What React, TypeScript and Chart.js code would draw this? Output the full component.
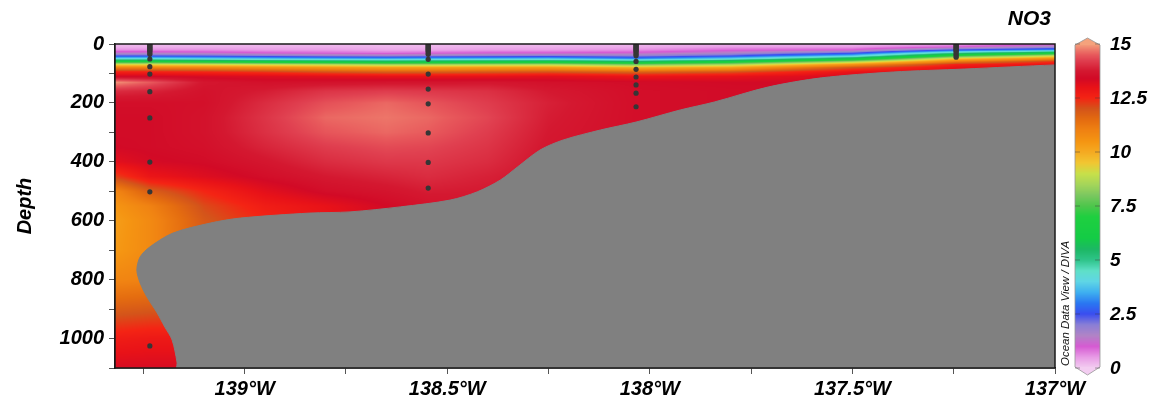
import React, { useEffect, useRef } from 'react';
import { Chart, registerables } from 'chart.js';

Chart.register(...registerables);

// ---------------- data ----------------
const X_MIN = -139.32;
const X_MAX = -137.0;
const Y_MIN = 0;
const Y_MAX = 1100;

// grid longitudes (columns) and depths (rows) of the NO3 section
const LONS = [-139.32, -139.234, -139.1, -138.95, -138.8, -138.65, -138.547, -138.4, -138.25, -138.034, -137.8, -137.5, -137.244, -137.0];
const DEPTHS = [0, 10, 20, 30, 40, 50, 60, 70, 80, 95, 110, 130, 160, 200, 250, 300, 350, 400, 450, 500, 550, 600, 700, 800, 900, 1000, 1100];

const NO3_A = [0.2, 0.3, 0.6, 1.3, 2.4, 4.2, 6.8, 9.3, 11.0, 12.6, 13.4, 14.9, 14.0, 13.5, 13.45, 13.45, 13.4, 13.1, 12.2, 10.9, 10.5, 10.3, 10.4, 10.9, 11.8, 12.7, 13.3];
const NO3_B = [0.2, 0.3, 0.6, 1.3, 2.4, 4.2, 6.8, 9.3, 11.0, 12.6, 13.4, 14.5, 13.9, 13.5, 13.45, 13.45, 13.45, 13.35, 12.9, 11.8, 11.0, 10.8, 10.8, 11.0, 11.9, 12.8, 13.3];
const NO3_C = [0.2, 0.3, 0.6, 1.2, 2.3, 4.0, 6.6, 9.2, 10.9, 12.5, 13.3, 13.7, 13.6, 13.55, 13.6, 13.6, 13.55, 13.45, 13.2, 12.5, 12.1, 11.9, 11.8, 11.8, 12.0, 12.8, 13.3];
const NO3_D = [0.2, 0.3, 0.5, 1.0, 2.1, 3.8, 6.3, 9.0, 10.7, 12.3, 13.2, 13.55, 13.8, 14.0, 14.1, 14.05, 13.9, 13.7, 13.5, 13.1, 12.7, 12.5, 12.5, 12.5, 12.5, 12.8, 13.3];
const NO3_E = [0.2, 0.3, 0.5, 0.9, 1.9, 3.6, 6.0, 8.8, 10.5, 12.0, 13.1, 13.6, 14.1, 14.4, 14.6, 14.45, 14.2, 14.0, 13.75, 13.5, 13.0, 12.9, 12.9, 12.9, 12.9, 12.9, 13.3];
const NO3_F = [0.2, 0.25, 0.4, 0.8, 1.8, 3.5, 5.8, 8.5, 10.3, 11.8, 13.0, 13.65, 14.2, 14.6, 14.7, 14.6, 14.35, 14.15, 13.9, 13.65, 13.4, 13.3, 13.3, 13.3, 13.3, 13.3, 13.3];
const NO3_G = [0.2, 0.25, 0.4, 0.9, 1.9, 3.6, 5.9, 8.5, 10.3, 11.8, 13.0, 13.65, 14.15, 14.45, 14.6, 14.5, 14.3, 14.15, 14.0, 13.8, 13.6, 13.6, 13.6, 13.6, 13.6, 13.6, 13.6];
const NO3_H = [0.2, 0.3, 0.5, 1.0, 2.0, 3.7, 6.0, 8.6, 10.4, 11.9, 13.0, 13.7, 14.05, 14.2, 14.3, 14.2, 14.1, 14.0, 13.85, 13.75, 13.75, 13.75, 13.75, 13.75, 13.75, 13.75, 13.75];
const NO3_I = [0.2, 0.3, 0.5, 1.0, 2.1, 3.8, 6.1, 8.7, 10.4, 12.0, 13.1, 13.55, 13.75, 13.85, 13.8, 13.75, 13.7, 13.65, 13.65, 13.65, 13.65, 13.65, 13.65, 13.65, 13.65, 13.65, 13.65];
const NO3_J = [0.25, 0.35, 0.6, 1.1, 1.9, 3.2, 5.6, 8.0, 9.9, 11.7, 12.9, 13.45, 13.5, 13.5, 13.5, 13.5, 13.5, 13.5, 13.5, 13.5, 13.5, 13.5, 13.5, 13.5, 13.5, 13.5, 13.5];
const NO3_K = [0.3, 0.5, 0.9, 1.5, 2.4, 4.0, 6.5, 8.6, 10.2, 12.0, 13.0, 13.4, 13.45, 13.45, 13.45, 13.45, 13.45, 13.45, 13.45, 13.45, 13.45, 13.45, 13.45, 13.45, 13.45, 13.45, 13.45];
const NO3_L = [0.3, 0.5, 1.0, 2.3, 3.8, 6.0, 8.5, 10.6, 12.0, 13.0, 13.3, 13.4, 13.4, 13.4, 13.4, 13.4, 13.4, 13.4, 13.4, 13.4, 13.4, 13.4, 13.4, 13.4, 13.4, 13.4, 13.4];
const NO3_M = [0.4, 1.0, 2.5, 4.8, 7.2, 9.6, 11.2, 12.6, 13.0, 13.2, 13.3, 13.3, 13.3, 13.3, 13.3, 13.3, 13.3, 13.3, 13.3, 13.3, 13.3, 13.3, 13.3, 13.3, 13.3, 13.3, 13.3];
const NO3_N = [0.9, 1.7, 3.2, 6.2, 8.9, 10.8, 12.4, 13.0, 13.1, 13.2, 13.2, 13.2, 13.2, 13.2, 13.2, 13.2, 13.2, 13.2, 13.2, 13.2, 13.2, 13.2, 13.2, 13.2, 13.2, 13.2, 13.2];
const NO3_COLUMNS = [NO3_A, NO3_B, NO3_C, NO3_D, NO3_E, NO3_F, NO3_G, NO3_H, NO3_I, NO3_J, NO3_K, NO3_L, NO3_M, NO3_N];

// bottom topography outline (lon, depth), closed polygon
const BATHY_LON = [-136.95, -136.95, -137.0, -137.224, -137.399, -137.577, -137.708, -137.841, -137.925, -138.034, -138.122, -138.214, -138.271, -138.327, -138.369, -138.426, -138.493, -138.616, -138.74, -138.839, -139.011, -139.085, -139.177, -139.234, -139.258, -139.266, -139.258, -139.241, -139.216, -139.197, -139.179, -139.167, -139.165, -136.95];
const BATHY_DEPTH = [1120, 70, 71, 85, 95, 115, 146, 197, 224, 265, 292, 326, 360, 418, 462, 502, 530, 553, 570, 574, 591, 608, 642, 689, 723, 767, 811, 859, 913, 961, 1005, 1080, 1120, 1120];

// sampling stations
const STATION_LON = [-139.234, -138.547, -138.034, -137.244];
const STATION_DEPTHS = [
  [0, 3, 6, 9, 12, 15, 18, 21, 25, 30, 35, 51, 77, 102, 162, 251, 401, 502, 1025],
  [0, 3, 6, 9, 12, 15, 18, 21, 25, 30, 35, 52, 102, 153, 203, 302, 402, 489],
  [0, 3, 6, 9, 12, 15, 18, 21, 25, 30, 35, 40, 59, 86, 112, 139, 167, 213],
  [0, 3, 6, 9, 12, 15, 18, 21, 25, 30, 35, 40, 45],
];

const X_TICKS = [-139.25, -139, -138.75, -138.5, -138.25, -138, -137.75, -137.5, -137.25, -137];
const X_LABELED = [-139, -138.5, -138, -137.5, -137];
const Y_TICKS = [0, 100, 200, 300, 400, 500, 600, 700, 800, 900, 1000, 1100];
const Y_LABELED = [0, 200, 400, 600, 800, 1000];

const CBAR_TICKS = [0, 2.5, 5, 7.5, 10, 12.5, 15];
const CBAR_LABELS = ['0', '2.5', '5', '7.5', '10', '12.5', '15'];
const CBAR_MIN = 0;
const CBAR_MAX = 15;

// colour map (value -> colour)
const CMAP_VALUES = [0, 0.5, 1.0, 1.5, 2.0, 2.5, 3.0, 3.5, 4.0, 4.5, 5.0, 5.5, 6.0, 7.0, 7.5, 8.0, 8.5, 9.0, 9.5, 10.0, 10.5, 11.0, 11.5, 12.0, 12.5, 13.0, 13.4, 13.75, 14.0, 14.25, 14.5, 14.75, 15.0];
const CMAP_COLORS = ['#f3cdf1', '#e89ce6', '#d65bd3', '#b184c6', '#8a7fd6', '#3a4ef0', '#2a78f2', '#3fb0f0', '#5fd6e6', '#5fe0c8', '#2fc48a', '#1cb864', '#14cc46', '#1fd040', '#4ec64c', '#7cc860', '#a6d65a', '#c8e04a', '#f2c632', '#f5aa22', '#f59512', '#f08212', '#e46c10', '#d4541a', '#f42414', '#e81218', '#d20a26', '#d41830', '#da2c40', '#e04050', '#e85a5c', '#ee7c6c', '#f5a27c'];

const FONT = '"Liberation Sans", Arial, Helvetica, sans-serif';

// ---------------- helpers ----------------
function hexToRgb(h: string): number[] {
  const n = parseInt(h.slice(1), 16);
  return [(n >> 16) & 255, (n >> 8) & 255, n & 255];
}
const CMAP_RGB = CMAP_COLORS.map(hexToRgb);

function locate(arr: number[], v: number): [number, number] {
  if (v <= arr[0]) return [0, 0];
  const n = arr.length;
  if (v >= arr[n - 1]) return [n - 2, 1];
  let i = 0;
  while (i < n - 2 && v > arr[i + 1]) i++;
  return [i, (v - arr[i]) / (arr[i + 1] - arr[i])];
}

function colorFor(v: number): number[] {
  const [k, t] = locate(CMAP_VALUES, Math.max(CBAR_MIN, Math.min(CBAR_MAX, v)));
  const a = CMAP_RGB[k];
  const b = CMAP_RGB[k + 1];
  return [a[0] + (b[0] - a[0]) * t, a[1] + (b[1] - a[1]) * t, a[2] + (b[2] - a[2]) * t];
}

function fieldValue(lon: number, depth: number): number {
  const [i, tx] = locate(LONS, lon);
  const [j, ty] = locate(DEPTHS, depth);
  const c0 = NO3_COLUMNS[i];
  const c1 = NO3_COLUMNS[i + 1];
  const a = c0[j] * (1 - ty) + c0[j + 1] * ty;
  const b = c1[j] * (1 - ty) + c1[j + 1] * ty;
  return a * (1 - tx) + b * tx;
}

// ---------------- plugins ----------------
const fieldPlugin = {
  id: 'no3Field',
  beforeDatasetsDraw(chart: any) {
    const { ctx, chartArea: a, scales } = chart;
    const xs = scales.x;
    const ys = scales.y;
    const w = Math.round(a.right - a.left);
    const h = Math.round(a.bottom - a.top);
    const off = document.createElement('canvas');
    off.width = w;
    off.height = h;
    const octx = off.getContext('2d')!;
    const img = octx.createImageData(w, h);
    const lonAt: number[] = [];
    for (let px = 0; px < w; px++) lonAt.push(xs.getValueForPixel(a.left + px + 0.5));
    for (let py = 0; py < h; py++) {
      const depth = ys.getValueForPixel(a.top + py + 0.5);
      for (let px = 0; px < w; px++) {
        const c = colorFor(fieldValue(lonAt[px], depth));
        const idx = (py * w + px) * 4;
        img.data[idx] = c[0];
        img.data[idx + 1] = c[1];
        img.data[idx + 2] = c[2];
        img.data[idx + 3] = 255;
      }
    }
    octx.putImageData(img, 0, 0);
    ctx.save();
    ctx.drawImage(off, a.left, a.top);
    ctx.restore();
  },
};

const decorPlugin = {
  id: 'decor',
  afterDraw(chart: any) {
    const { ctx, chartArea: a } = chart;
    ctx.save();
    // frame
    ctx.strokeStyle = '#1a1a1a';
    ctx.lineWidth = 1.5;
    ctx.strokeRect(a.left, a.top, a.right - a.left, a.bottom - a.top);

    // colour bar
    const x0 = a.right + 20;
    const bw = 25;
    const top = a.top;
    const bot = a.bottom;
    for (let y = Math.floor(top); y < Math.ceil(bot); y++) {
      const v = CBAR_MIN + ((bot - (y + 0.5)) / (bot - top)) * (CBAR_MAX - CBAR_MIN);
      const c = colorFor(v);
      ctx.fillStyle = `rgb(${c[0] | 0},${c[1] | 0},${c[2] | 0})`;
      ctx.fillRect(x0, y, bw, 1);
    }
    const cTop = colorFor(CBAR_MAX);
    const cBot = colorFor(CBAR_MIN);
    ctx.fillStyle = `rgb(${cTop[0] | 0},${cTop[1] | 0},${cTop[2] | 0})`;
    ctx.beginPath();
    ctx.moveTo(x0, top + 1);
    ctx.lineTo(x0 + bw / 2, top - 6);
    ctx.lineTo(x0 + bw, top + 1);
    ctx.closePath();
    ctx.fill();
    ctx.fillStyle = `rgb(${cBot[0] | 0},${cBot[1] | 0},${cBot[2] | 0})`;
    ctx.beginPath();
    ctx.moveTo(x0, bot - 1);
    ctx.lineTo(x0 + bw / 2, bot + 7);
    ctx.lineTo(x0 + bw, bot - 1);
    ctx.closePath();
    ctx.fill();
    ctx.strokeStyle = 'rgba(150,150,150,0.8)';
    ctx.lineWidth = 1;
    ctx.beginPath();
    ctx.moveTo(x0, top + 1);
    ctx.lineTo(x0 + bw / 2, top - 6);
    ctx.lineTo(x0 + bw, top + 1);
    ctx.lineTo(x0 + bw, bot - 1);
    ctx.lineTo(x0 + bw / 2, bot + 7);
    ctx.lineTo(x0, bot - 1);
    ctx.closePath();
    ctx.stroke();

    ctx.fillStyle = '#000';
    ctx.font = `italic bold 19px ${FONT}`;
    ctx.textAlign = 'left';
    ctx.textBaseline = 'middle';
    CBAR_TICKS.forEach((t, i) => {
      const y = bot - ((t - CBAR_MIN) / (CBAR_MAX - CBAR_MIN)) * (bot - top);
      ctx.strokeStyle = 'rgba(60,60,60,0.45)';
      ctx.beginPath();
      ctx.moveTo(x0, y);
      ctx.lineTo(x0 + 5, y);
      ctx.moveTo(x0 + bw - 5, y);
      ctx.lineTo(x0 + bw, y);
      ctx.stroke();
      ctx.fillText(CBAR_LABELS[i], x0 + 35, y + 1);
    });

    // title
    ctx.font = `italic bold 21px ${FONT}`;
    ctx.textAlign = 'right';
    ctx.textBaseline = 'alphabetic';
    ctx.fillText('NO3', a.right - 4, 25);

    // ODV credit
    ctx.save();
    ctx.translate(a.right + 11, bot - 2);
    ctx.rotate(-Math.PI / 2);
    ctx.font = `italic 11.5px ${FONT}`;
    ctx.textAlign = 'left';
    ctx.textBaseline = 'middle';
    ctx.fillStyle = '#111';
    ctx.fillText('Ocean Data View / DIVA', 0, 0);
    ctx.restore();

    ctx.restore();
  },
};

// ---------------- component ----------------
export default function App() {
  const canvasRef = useRef<HTMLCanvasElement | null>(null);

  useEffect(() => {
    const canvas = canvasRef.current;
    if (!canvas) return;

    const bathy = BATHY_LON.map((x, i) => ({ x, y: BATHY_DEPTH[i] }));
    const dots: { x: number; y: number }[] = [];
    STATION_LON.forEach((lon, i) => {
      STATION_DEPTHS[i].forEach((d) => dots.push({ x: lon, y: d }));
    });

    const tickFont = { family: FONT, size: 20, weight: 'bold' as const, style: 'italic' as const };

    const chart = new Chart(canvas, {
      type: 'scatter',
      data: {
        datasets: [
          {
            type: 'scatter',
            label: 'stations',
            data: dots,
            pointRadius: 2.6,
            pointHoverRadius: 2.6,
            backgroundColor: '#363636',
            borderWidth: 0,
          } as any,
          {
            type: 'line',
            label: 'bottom',
            data: bathy,
            fill: 'shape',
            backgroundColor: '#808080',
            borderColor: '#808080',
            borderWidth: 1,
            pointRadius: 0,
            tension: 0.3,
          } as any,
        ],
      },
      options: {
        animation: false,
        responsive: true,
        maintainAspectRatio: false,
        events: [],
        layout: { padding: { left: 0, top: 44, right: 95, bottom: 0 } },
        plugins: {
          legend: { display: false },
          tooltip: { enabled: false },
        },
        scales: {
          x: {
            type: 'linear',
            min: X_MIN,
            max: X_MAX,
            afterBuildTicks: (s: any) => {
              s.ticks = X_TICKS.map((v) => ({ value: v }));
            },
            afterFit: (s: any) => {
              s.height = 38;
            },
            ticks: {
              autoSkip: false,
              maxRotation: 0,
              padding: 3,
              color: '#000',
              font: tickFont,
              callback: (v: any) => (X_LABELED.includes(Number(v)) ? `${Math.abs(Number(v))}°W` : ''),
            },
            grid: { drawOnChartArea: false, drawTicks: true, tickLength: 6, color: '#555' },
            border: { display: true, color: '#1a1a1a', width: 1.5 },
          },
          y: {
            type: 'linear',
            reverse: true,
            min: Y_MIN,
            max: Y_MAX,
            afterBuildTicks: (s: any) => {
              s.ticks = Y_TICKS.map((v) => ({ value: v }));
            },
            afterFit: (s: any) => {
              s.width = 115;
            },
            ticks: {
              autoSkip: false,
              padding: 5,
              color: '#000',
              font: tickFont,
              callback: (v: any) => (Y_LABELED.includes(Number(v)) ? String(v) : ''),
            },
            grid: { drawOnChartArea: false, drawTicks: true, tickLength: 6, color: '#555' },
            border: { display: true, color: '#1a1a1a', width: 1.5 },
            title: {
              display: true,
              text: 'Depth',
              color: '#000',
              font: { family: FONT, size: 20, weight: 'bold', style: 'italic' },
              padding: { top: 13, bottom: 0 },
            },
          },
        },
      },
      plugins: [fieldPlugin, decorPlugin],
    });

    return () => chart.destroy();
  }, []);

  return (
    <div style={{ position: 'absolute', left: 0, top: 0, width: 1150, height: 406, background: '#fff' }}>
      <canvas ref={canvasRef} />
    </div>
  );
}
